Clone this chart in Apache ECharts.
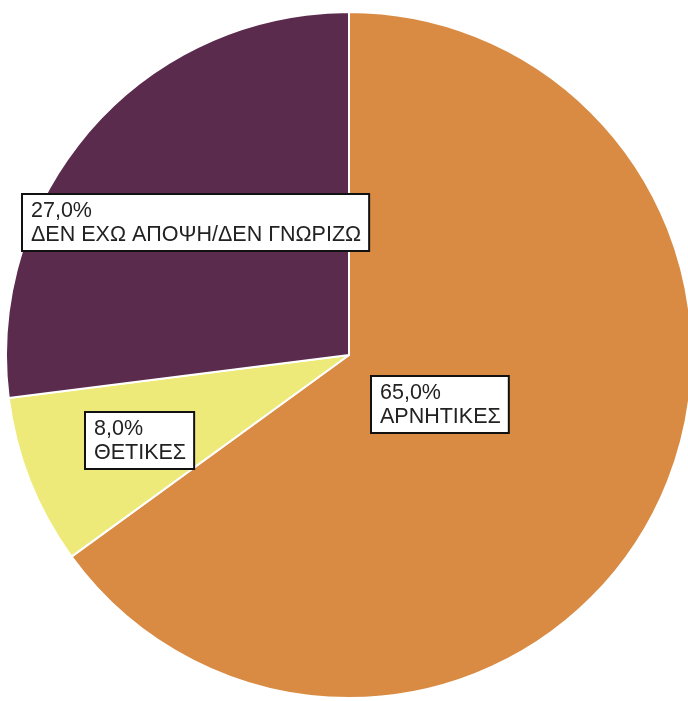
<!DOCTYPE html>
<html>
<head>
<meta charset="utf-8">
<script src="https://cdn.jsdelivr.net/npm/echarts@6/dist/echarts.min.js"></script>
<style>
html, body { margin: 0; padding: 0; background: #fff; }
#chart { width: 688px; height: 701px; }
</style>
</head>
<body>
<div id="chart"></div>
<script>
// 数据
var categories = ['ΑΡΝΗΤΙΚΕΣ', 'ΘΕΤΙΚΕΣ', 'ΔΕΝ ΕΧΩ ΑΠΟΨΗ/ΔΕΝ ΓΝΩΡΙΖΩ'];
var values = [65.0, 8.0, 27.0];
var colors = ['#D98B43', '#EEEA7A', '#5B2B4D'];

// 标签框左上角位置
var labelPos = [[372, 377], [86, 413], [23, 195]];

var chart = echarts.init(document.getElementById('chart'));

var pieData = [];
for (var i = 0; i < categories.length; i++) {
    pieData.push({ name: categories[i], value: values[i], itemStyle: { color: colors[i] } });
}

chart.setOption({
    animation: false,
    series: [{
        type: 'pie',
        center: [349, 355],
        radius: [0, 343],
        startAngle: 90,
        clockwise: true,
        data: pieData,
        itemStyle: { borderColor: '#fff', borderWidth: 2 },
        label: {
            show: true,
            position: 'inside',
            formatter: function (p) {
                return p.value.toFixed(1).replace('.', ',') + '%\n' + p.name;
            },
            fontFamily: 'Liberation Sans',
            fontSize: 21.5,
            lineHeight: 24,
            color: '#222',
            backgroundColor: '#fff',
            borderColor: '#111',
            borderWidth: 2,
            padding: [4, 7, 3, 8],
            align: 'left'
        },
        labelLine: { show: false },
        labelLayout: function (params) {
            var p = labelPos[params.dataIndex];
            return { x: p[0], y: p[1], align: 'left', verticalAlign: 'top' };
        },
        emphasis: { disabled: true }
    }]
});
</script>
</body>
</html>
